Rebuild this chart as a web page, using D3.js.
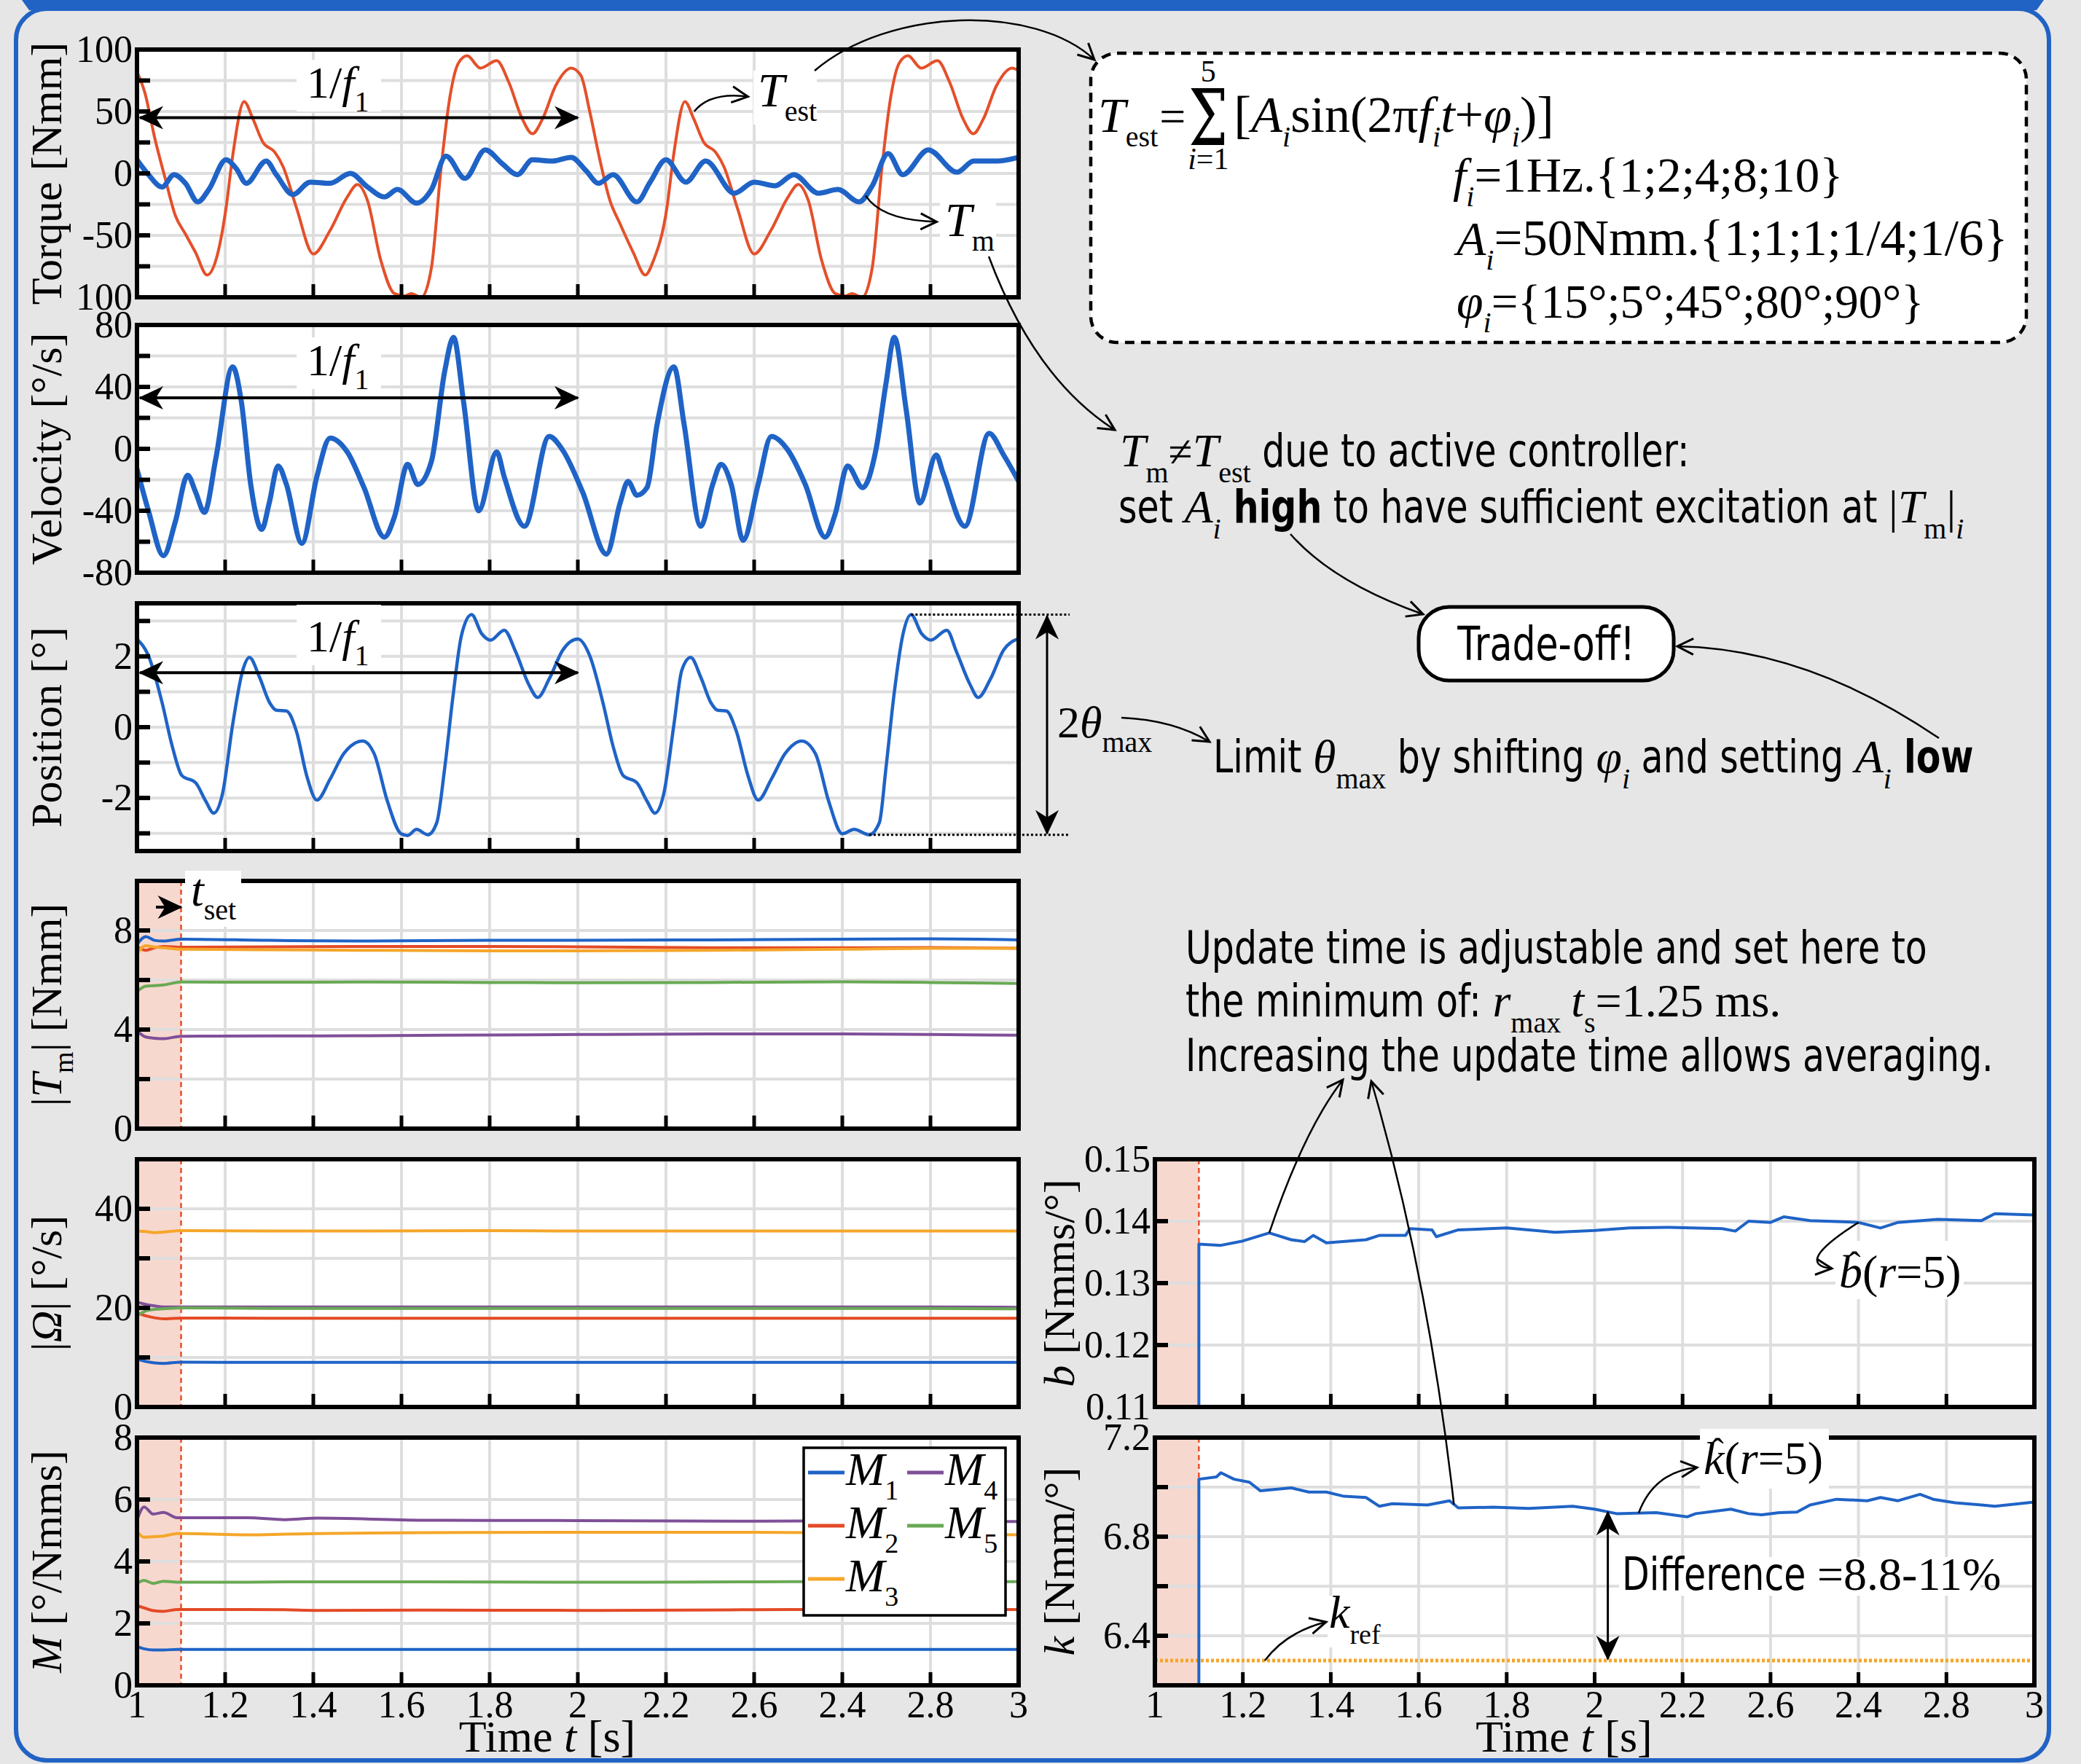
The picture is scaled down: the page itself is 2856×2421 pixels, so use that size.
<!DOCTYPE html>
<html>
<head>
<meta charset="utf-8">
<script src="https://cdn.jsdelivr.net/npm/d3@7"></script>
<style>body{margin:0;background:#e6e6e6} text{white-space:pre}</style>
</head>
<body>
<script>
// ---------- data ----------
var xTicks = [1, 1.2, 1.4, 1.6, 1.8, 2, 2.2, 2.4, 2.6, 2.8, 3];
var xTickLabels = ["1","1.2","1.4","1.6","1.8","2","2.2","2.6","2.4","2.8","3"];

// torque panel: T_est (orange) and T_m (blue)
var tEst = [1.0,1.018,1.04,1.064,1.087,1.11,1.133,1.159,1.179,1.202,1.217,1.243,1.263,1.286,1.313,1.332,1.362,1.40,1.438,1.477,1.50,1.523,1.553,1.584,1.607,1.622,1.645,1.668,1.69,1.71,1.729,1.749,1.779,1.816,1.843,1.874,1.897,1.92,1.95,1.985,2.007,2.027,2.05,2.073,2.095,2.126,2.153,2.172,2.202,2.217,2.243,2.263,2.286,2.313,2.332,2.362,2.40,2.438,2.477,2.50,2.523,2.553,2.584,2.607,2.622,2.645,2.668,2.69,2.71,2.729,2.749,2.779,2.816,2.843,2.874,2.897,2.92,2.95,2.985,3.0];
var vEst = [82,65,29,-4,-34,-49,-64,-82,-70,-28,14,58,44,25,17,5,-28,-65,-46,-19,-9,-22,-70,-97,-99,-97,-100,-76,5,62,89,95,85,91,74,44,32,44,71,85,79,50,11,-22,-40,-64,-82,-70,-28,14,58,44,25,17,5,-28,-65,-46,-19,-9,-22,-70,-97,-99,-97,-100,-76,5,62,89,95,85,91,74,44,32,44,71,85,83];
var tTm = [1.0,1.026,1.057,1.084,1.11,1.138,1.163,1.202,1.225,1.248,1.293,1.316,1.354,1.393,1.438,1.484,1.523,1.561,1.591,1.634,1.668,1.701,1.744,1.79,1.828,1.863,1.897,1.943,1.985,2.019,2.047,2.08,2.134,2.164,2.20,2.245,2.29,2.355,2.40,2.447,2.49,2.546,2.59,2.638,2.668,2.704,2.737,2.795,2.86,2.898,2.951,3.0];
var vTm = [11,-1,-11,-1,-8,-23,-13,11,4,-8,10,-1,-17,-7,-8,0,-11,-19,-13,-24,-13,14,-4,19,8,-1,11,10,13,2,-8,-1,-23,-7,11,-7,10,-16,-7,-10,-1,-16,-13,-23,-10,16,-1,19,1,10,10,13];

// velocity
var tVel = [1.0,1.026,1.06,1.087,1.115,1.133,1.153,1.179,1.217,1.237,1.258,1.283,1.30,1.32,1.339,1.374,1.408,1.438,1.477,1.515,1.561,1.584,1.614,1.637,1.668,1.698,1.718,1.741,1.775,1.816,1.833,1.879,1.935,1.966,2.011,2.065,2.096,2.114,2.134,2.157,2.18,2.218,2.241,2.279,2.306,2.325,2.348,2.375,2.409,2.439,2.477,2.516,2.561,2.584,2.612,2.646,2.676,2.699,2.718,2.745,2.776,2.813,2.829,2.878,2.933,2.966,3.0];
var vVel = [-13,-40,-69,-47,-17,-28,-41,-6,53,30,-23,-52,-35,-11,-23,-61,-18,7,-2,-25,-57,-44,-10,-23,-8,50,72,30,-40,-2,-18,-50,8,-1,-28,-68,-35,-21,-30,-25,16,53,16,-50,-23,-10,-23,-59,-23,8,-1,-23,-57,-42,-11,-25,-1,42,72,25,-35,-4,-16,-50,10,-4,-21];

// position
var tPos = [1.0,1.026,1.057,1.08,1.102,1.133,1.156,1.174,1.194,1.217,1.24,1.255,1.278,1.301,1.316,1.339,1.362,1.385,1.408,1.438,1.469,1.512,1.538,1.568,1.599,1.614,1.634,1.66,1.68,1.698,1.717,1.736,1.759,1.782,1.802,1.833,1.859,1.889,1.909,1.935,1.966,2.0,2.027,2.057,2.08,2.103,2.134,2.157,2.175,2.195,2.218,2.236,2.256,2.279,2.302,2.317,2.337,2.36,2.386,2.409,2.439,2.47,2.508,2.539,2.569,2.6,2.627,2.661,2.684,2.699,2.717,2.737,2.756,2.78,2.801,2.837,2.859,2.89,2.908,2.936,2.966,2.997];
var vPos = [2.49,2.02,0.69,-0.54,-1.37,-1.57,-2.09,-2.43,-1.88,0.07,1.61,1.97,1.41,0.69,0.48,0.46,-0.13,-1.37,-2.06,-1.47,-0.75,-0.39,-0.75,-2.09,-3.01,-3.06,-2.89,-3.04,-2.70,-1.16,0.89,2.59,3.18,2.64,2.46,2.74,2.13,1.2,0.84,1.36,2.18,2.49,2.02,0.69,-0.54,-1.37,-1.57,-2.09,-2.43,-1.88,0.07,1.61,1.97,1.41,0.69,0.48,0.46,-0.13,-1.37,-2.06,-1.47,-0.75,-0.39,-0.75,-2.09,-3.01,-2.89,-3.04,-2.70,-1.16,0.89,2.59,3.18,2.64,2.46,2.74,2.13,1.2,0.84,1.36,2.18,2.49];

// |T_m|, |Omega| per mode (M1..M5)
var tAmp = [1.0,1.02,1.04,1.06,1.1,1.3,1.5,1.8,2.0,2.3,2.6,2.8,3.0];
var tq1 = [7.43,7.75,7.6,7.57,7.65,7.6,7.57,7.6,7.6,7.62,7.65,7.66,7.62];
var tq2 = [7.35,7.2,7.3,7.35,7.32,7.34,7.35,7.35,7.34,7.3,7.3,7.31,7.28];
var tq3 = [7.06,7.38,7.33,7.3,7.24,7.22,7.2,7.18,7.18,7.2,7.24,7.28,7.28];
var tq4 = [3.95,3.7,3.65,3.63,3.73,3.74,3.75,3.78,3.8,3.82,3.82,3.8,3.77];
var tq5 = [5.53,5.75,5.77,5.8,5.92,5.91,5.92,5.9,5.89,5.9,5.93,5.9,5.86];
var om1 = [9.6,9.2,8.9,8.8,9.05,9.0,9.0,9.0,9.0,9.0,9.0,9.0,9.0];
var om2 = [19.0,18.4,18.0,17.8,17.95,17.9,17.9,17.9,17.9,17.9,17.9,17.9,17.9];
var om3 = [35.5,35.4,35.2,35.3,35.6,35.5,35.5,35.6,35.5,35.5,35.5,35.5,35.5];
var om4 = [21.2,20.7,20.4,20.2,20.2,20.2,20.2,20.2,20.2,20.2,20.2,20.2,20.1];
var om5 = [18.4,19.4,19.7,19.8,20.0,19.9,19.9,19.9,19.9,19.9,19.9,19.9,19.8];

// M per mode
var tMod = [1.0,1.016,1.037,1.06,1.092,1.25,1.336,1.41,1.65,2.0,2.4,2.6,3.0];
var m1 = [1.25,1.18,1.14,1.14,1.16,1.16,1.16,1.16,1.16,1.16,1.16,1.16,1.16];
var m2 = [2.57,2.5,2.41,2.39,2.45,2.45,2.44,2.42,2.43,2.42,2.44,2.45,2.45];
var m3 = [4.98,4.78,4.8,4.82,4.9,4.86,4.88,4.9,4.93,4.94,4.94,4.92,4.86];
var m4 = [5.33,5.76,5.53,5.58,5.41,5.41,5.35,5.4,5.33,5.32,5.3,5.31,5.29];
var m5 = [3.29,3.39,3.29,3.36,3.33,3.33,3.34,3.34,3.34,3.33,3.34,3.35,3.35];

// estimated b and k
var tB = [1.1,1.1,1.15,1.2,1.26,1.31,1.34,1.36,1.39,1.48,1.51,1.57,1.58,1.63,1.64,1.69,1.8,1.91,2.0,2.08,2.17,2.29,2.32,2.35,2.4,2.43,2.49,2.6,2.65,2.69,2.78,2.88,2.91,3.0];
var vB = [0.11,0.1363,0.1361,0.1368,0.1381,0.137,0.1367,0.1377,0.1365,0.137,0.1377,0.1377,0.1388,0.1386,0.1375,0.1386,0.1389,0.1382,0.1385,0.1389,0.139,0.1388,0.1384,0.14,0.1398,0.1407,0.1401,0.1398,0.1389,0.1398,0.1403,0.1401,0.1412,0.141];
var tK = [1.1,1.1,1.14,1.15,1.18,1.215,1.24,1.31,1.35,1.39,1.43,1.48,1.51,1.54,1.62,1.67,1.69,1.77,1.85,1.95,2.0,2.05,2.14,2.21,2.23,2.31,2.35,2.38,2.42,2.46,2.49,2.55,2.62,2.65,2.69,2.74,2.77,2.82,2.88,2.91,3.0];
var vK = [6.2,7.032,7.041,7.058,7.032,7.02,6.985,6.997,6.98,6.98,6.963,6.958,6.923,6.933,6.928,6.945,6.916,6.919,6.914,6.923,6.911,6.893,6.897,6.88,6.893,6.911,6.893,6.888,6.897,6.899,6.928,6.951,6.945,6.958,6.945,6.971,6.951,6.937,6.928,6.923,6.94];
var kRef = 6.3;

// ---------- styles ----------
var SERIF = "'Liberation Serif','DejaVu Serif',serif";
var SANS = "'DejaVu Sans',sans-serif";
var BLUE = "#1f63c6", RED = "#e34a26", ORANGE = "#f5a62a", GREEN = "#69a955", PURPLE = "#7f4f98", TEST = "#e4502a";
var modeColors = [BLUE, RED, ORANGE, PURPLE, GREEN];

var W = 2856, H = 2421, PH = 340;
var LX = [188, 1398], RX = [1585, 2792];
var rowTop = [68, 446, 828, 1209, 1591, 1973];

var svg = d3.select("body").append("svg")
  .attr("width", W).attr("height", H);
var defs = svg.append("defs");

svg.append("rect").attr("width", W).attr("height", H).attr("fill", "#e6e6e6");
// blue frame
svg.append("rect").attr("x", 22).attr("y", 12).attr("width", 2790).attr("height", 2404)
  .attr("rx", 42).attr("fill", "none").attr("stroke", "#2163c4").attr("stroke-width", 6);
svg.append("path").attr("d", "M30,0 L2805,0 L2795,14 L40,14 Z").attr("fill", "#2163c4");

// arrow markers
defs.append("marker").attr("id", "stealth").attr("markerUnits", "userSpaceOnUse")
  .attr("viewBox", "-40 -20 44 40").attr("refX", 0).attr("refY", 0)
  .attr("markerWidth", 44).attr("markerHeight", 40).attr("orient", "auto-start-reverse")
  .append("path").attr("d", "M2,0 L-32,-16 L-22,0 L-32,16 Z").attr("fill", "#000");
defs.append("marker").attr("id", "open").attr("markerUnits", "userSpaceOnUse")
  .attr("viewBox", "-30 -16 34 32").attr("refX", 0).attr("refY", 0)
  .attr("markerWidth", 34).attr("markerHeight", 32).attr("orient", "auto")
  .append("path").attr("d", "M-22,-11 L0,0 L-22,11").attr("fill", "none")
  .attr("stroke", "#000").attr("stroke-width", 3);

var panels = svg.append("g");
var ann = svg.append("g");
var clipN = 0;

function panel(xr, top, dom, step, ticks, tickLabels, shade, showX) {
  var p = {};
  p.x = d3.scaleLinear().domain([1, 3]).range(xr);
  p.y = d3.scaleLinear().domain(dom).range([top + PH, top]);
  var bottom = top + PH;
  var g = panels.append("g");
  g.append("rect").attr("x", xr[0]).attr("y", top).attr("width", xr[1] - xr[0]).attr("height", PH).attr("fill", "#fff");
  if (shade) {
    g.append("rect").attr("x", p.x(1)).attr("y", top).attr("width", p.x(1.1) - p.x(1)).attr("height", PH).attr("fill", "#f7d8cf");
  }
  var grid = g.append("g").attr("stroke", "#dedede").attr("stroke-width", 4);
  xTicks.slice(1, -1).forEach(function (v) {
    grid.append("line").attr("x1", p.x(v)).attr("x2", p.x(v)).attr("y1", top).attr("y2", bottom);
  });
  var i0 = Math.ceil(dom[0] / step - 1e-6), i1 = Math.floor(dom[1] / step + 1e-6);
  var gv = [];
  for (var i = i0; i <= i1; i++) {
    var v = i * step;
    if (Math.abs(v - dom[0]) < step * 1e-3 || Math.abs(v - dom[1]) < step * 1e-3) continue;
    gv.push(v);
  }
  gv.forEach(function (v) {
    grid.append("line").attr("x1", xr[0]).attr("x2", xr[1]).attr("y1", p.y(v)).attr("y2", p.y(v));
  });
  if (shade) {
    g.append("line").attr("x1", p.x(1.1)).attr("x2", p.x(1.1)).attr("y1", top).attr("y2", bottom)
      .attr("stroke", "#e8502a").attr("stroke-width", 2.5).attr("stroke-dasharray", "7,5");
  }
  var id = "clip" + (clipN++);
  defs.append("clipPath").attr("id", id).append("rect")
    .attr("x", xr[0]).attr("y", top).attr("width", xr[1] - xr[0]).attr("height", PH);
  p.data = g.append("g").attr("clip-path", "url(#" + id + ")");
  var ax = g.append("g");
  gv.forEach(function (v) {
    ax.append("line").attr("x1", xr[0]).attr("x2", xr[0] + 18).attr("y1", p.y(v)).attr("y2", p.y(v))
      .attr("stroke", "#000").attr("stroke-width", 6);
  });
  xTicks.slice(1, -1).forEach(function (v) {
    ax.append("line").attr("x1", p.x(v)).attr("x2", p.x(v)).attr("y1", bottom - 18).attr("y2", bottom)
      .attr("stroke", "#000").attr("stroke-width", 5);
  });
  ax.append("rect").attr("x", xr[0]).attr("y", top).attr("width", xr[1] - xr[0]).attr("height", PH)
    .attr("fill", "none").attr("stroke", "#000").attr("stroke-width", 6);
  ticks.forEach(function (v, i) {
    ax.append("text").attr("x", xr[0] - 6).attr("y", p.y(v) + 17).attr("text-anchor", "end")
      .attr("font-family", SERIF).attr("font-size", 52).text(tickLabels[i]);
  });
  if (showX) {
    xTicks.forEach(function (v, i) {
      ax.append("text").attr("x", p.x(v)).attr("y", 2357).attr("text-anchor", "middle")
        .attr("font-family", SERIF).attr("font-size", 52).text(xTickLabels[i]);
    });
  }
  p.top = top; p.bottom = bottom;
  return p;
}

function zip(t, v) { return t.map(function (d, i) { return [d, v[i]]; }); }
function draw(p, t, v, color, width, curve) {
  var line = d3.line().x(function (d) { return p.x(d[0]); }).y(function (d) { return p.y(d[1]); })
    .curve(curve || d3.curveLinear);
  p.data.append("path").datum(zip(t, v)).attr("d", line).attr("fill", "none")
    .attr("stroke", color).attr("stroke-width", width).attr("stroke-linejoin", "round");
}

// ---------- rich text ----------
function rich(parent, segs) {
  var g = parent.append("g");
  var cx = 0;
  segs.forEach(function (s) {
    var sx = s.sx || 1;
    cx += (s.dx || 0);
    var t = g.append("text")
      .attr("transform", "translate(" + cx + "," + (s.dy || 0) + ") scale(" + sx + ",1)")
      .attr("xml:space", "preserve")
      .attr("font-family", s.f).attr("font-size", s.fs)
      .attr("font-style", s.it ? "italic" : null)
      .attr("font-weight", s.b ? "bold" : null)
      .text(s.t);
    var w = t.node().getComputedTextLength() * sx;
    s._x = cx; s._w = w;
    if (s.hat) {
      g.append("text").attr("x", cx + w / 2 + s.fs * 0.08).attr("y", (s.dy || 0) - s.fs * 0.22)
        .attr("text-anchor", "middle").attr("font-family", SERIF).attr("font-size", s.fs * 0.8).text("\u02C6");
    }
    cx += w;
  });
  return { g: g, w: cx, segs: segs };
}
function put(parent, x, y, segs, anchor, rot) {
  var r = rich(parent, segs);
  var off = anchor === "middle" ? -r.w / 2 : anchor === "end" ? -r.w : 0;
  if (rot) r.g.attr("transform", "translate(" + x + "," + y + ") rotate(" + rot + ") translate(" + off + ",0)");
  else r.g.attr("transform", "translate(" + (x + off) + "," + y + ")");
  r.x0 = x + off;
  return r;
}
function S(t, o) { return Object.assign({ t: t, f: SANS, fs: 62, sx: 0.79 }, o || {}); }
function R(t, fs, o) { return Object.assign({ t: t, f: SERIF, fs: fs || 64 }, o || {}); }
function I(t, fs, o) { return Object.assign({ t: t, f: SERIF, fs: fs || 64, it: true }, o || {}); }
function sub(t, it, fs, dy) { return { t: t, f: SERIF, fs: fs || 40, dy: dy || 20, it: !!it }; }

// ---------- panels ----------
var pT = panel(LX, rowTop[0], [-100, 100], 25, [100, 50, 0, -50, -100], ["100", "50", "0", "-50", "100"], false, false);
var pV = panel(LX, rowTop[1], [-80, 80], 20, [80, 40, 0, -40, -80], ["80", "40", "0", "-40", "-80"], false, false);
var pP = panel(LX, rowTop[2], [-3.5, 3.5], 1, [2, 0, -2], ["2", "0", "-2"], false, false);
var pA = panel(LX, rowTop[3], [0, 10], 2, [8, 4, 0], ["8", "4", "0"], true, false);
var pO = panel(LX, rowTop[4], [0, 50], 10, [40, 20, 0], ["40", "20", "0"], true, false);
var pM = panel(LX, rowTop[5], [0, 8], 2, [8, 6, 4, 2, 0], ["8", "6", "4", "2", "0"], true, true);
var pB = panel(RX, rowTop[4], [0.11, 0.15], 0.01, [0.15, 0.14, 0.13, 0.12, 0.11], ["0.15", "0.14", "0.13", "0.12", "0.11"], true, false);
var pK = panel(RX, rowTop[5], [6.2, 7.2], 0.2, [7.2, 6.8, 6.4], ["7.2", "6.8", "6.4"], true, true);

draw(pT, tEst, vEst, TEST, 4, d3.curveMonotoneX);
draw(pT, tTm, vTm, BLUE, 7, d3.curveMonotoneX);
draw(pV, tVel, vVel, BLUE, 7, d3.curveMonotoneX);
draw(pP, tPos, vPos, BLUE, 4.5, d3.curveMonotoneX);
[tq1, tq2, tq3, tq4, tq5].forEach(function (v, i) { draw(pA, tAmp, v, modeColors[i], 4, d3.curveMonotoneX); });
[om1, om2, om3, om4, om5].forEach(function (v, i) { draw(pO, tAmp, v, modeColors[i], 4, d3.curveMonotoneX); });
[m1, m2, m3, m4, m5].forEach(function (v, i) { draw(pM, tMod, v, modeColors[i], 4, d3.curveMonotoneX); });
pK.data.append("line").attr("x1", pK.x(1)).attr("x2", pK.x(3)).attr("y1", pK.y(kRef)).attr("y2", pK.y(kRef))
  .attr("stroke", ORANGE).attr("stroke-width", 5).attr("stroke-dasharray", "4,3");
draw(pB, tB, vB, BLUE, 4);
draw(pK, tK, vK, BLUE, 4);

// ---------- axis titles ----------
var LLX = 84, RLX = 1474;
function midY(p) { return (p.top + p.bottom) / 2; }
put(ann, LLX, midY(pT), [R("Torque [Nmm]", 60)], "middle", -90);
put(ann, LLX, midY(pV), [R("Velocity [\u00B0/s]", 60)], "middle", -90);
put(ann, LLX, midY(pP), [R("Position [\u00B0]", 60)], "middle", -90);
put(ann, LLX, midY(pA), [R("|", 60), I("T", 60), sub("m", false, 38, 16), R("| [Nmm]", 60)], "middle", -90);
put(ann, LLX, midY(pO), [R("|", 60), I("\u03A9", 60), R("| [\u00B0/s]", 60)], "middle", -90);
put(ann, LLX, midY(pM), [I("M", 60), R(" [\u00B0/Nmms]", 60)], "middle", -90);
put(ann, RLX, midY(pB), [I("b", 60), R(" [Nmms/\u00B0]", 60)], "middle", -90);
put(ann, RLX, midY(pK), [I("k", 60), R(" [Nmm/\u00B0]", 60)], "middle", -90);
put(ann, (LX[0] + LX[1]) / 2 - 42, 2404, [R("Time ", 62), I("t", 62), R(" [s]", 62)], "middle");
put(ann, (RX[0] + RX[1]) / 2 - 42, 2404, [R("Time ", 62), I("t", 62), R(" [s]", 62)], "middle");

// ---------- period arrows 1/f1 ----------
function whiteBox(x, y, w, h) {
  ann.append("rect").attr("x", x).attr("y", y).attr("width", w).attr("height", h).attr("fill", "#fff");
}
function dblArrow(x1, y1, x2, y2, sw) {
  ann.append("line").attr("x1", x1).attr("y1", y1).attr("x2", x2).attr("y2", y2)
    .attr("stroke", "#000").attr("stroke-width", sw || 4)
    .attr("marker-start", "url(#stealth)").attr("marker-end", "url(#stealth)");
}
function curveArrow(d, head) {
  ann.append("path").attr("d", d).attr("fill", "none").attr("stroke", "#000").attr("stroke-width", 2.5)
    .attr("marker-end", head === false ? null : "url(#open)");
}
var perRows = [[pT, 45, 82, 134], [pV, 33, 463, 515], [pP, 1.54, 830, 894]];
perRows.forEach(function (r) {
  var p = r[0];
  whiteBox(407, r[2], 116, r[3] - r[2] + 19);
  put(ann, 421, r[3], [R("1/", 62), I("f", 62), sub("1", false, 40, 19)]);
  dblArrow(p.x(1) + 4, p.y(r[1]), p.x(2), p.y(r[1]), 4);
});

// T_est / T_m labels
whiteBox(1034, 97, 87, 74);
put(ann, 1040, 146, [I("T", 66), sub("est")]);
whiteBox(1290, 278, 77, 74);
put(ann, 1297, 324, [I("T", 66), sub("m")]);
curveArrow("M" + pT.x(2.264) + "," + pT.y(50) + " Q" + pT.x(2.3) + "," + pT.y(66) + " " + pT.x(2.386) + "," + pT.y(62));
curveArrow("M" + pT.x(2.653) + "," + pT.y(-18) + " Q" + pT.x(2.69) + "," + pT.y(-38) + " " + pT.x(2.814) + "," + pT.y(-39));
curveArrow("M1118,97 C1220,10 1420,5 1502,82");
curveArrow("M1357,352 Q1420,520 1530,590");

// ---------- formula box ----------
ann.append("rect").attr("x", 1497).attr("y", 73).attr("width", 1284).attr("height", 397).attr("rx", 36)
  .attr("fill", "#fff").attr("stroke", "#000").attr("stroke-width", 4.5).attr("stroke-dasharray", "13,9");
var f1 = put(ann, 1507, 181, [I("T", 68), sub("est"), R("=", 64, { dx: 2 }),
  { t: "\u03A3", f: "'DejaVu Serif',serif", fs: 106, sx: 0.72, dy: 18, dx: 4 },
  R("[", 72, { dx: 8 }), I("A", 70), sub("i", true), R("sin(2\u03C0", 70), I("f", 70), sub("i", true),
  I("t", 70), R("+", 70), I("\u03C6", 70), sub("i", true), R(")]", 70)]);
var sg = f1.segs[3];
put(ann, f1.x0 + sg._x + sg._w / 2, 112, [R("5", 42)], "middle");
put(ann, f1.x0 + sg._x + sg._w / 2, 232, [I("i", 42), R("=1", 42)], "middle");
put(ann, 1994, 263, [I("f", 66), sub("i", true), R("=1Hz.{1;2;4;8;10}", 67)]);
put(ann, 1999, 350, [I("A", 66), sub("i", true), R("=50Nmm.{1;1;1;1/4;1/6}", 69)]);
put(ann, 1999, 436, [I("\u03C6", 66), sub("i", true), R("={15\u00B0;5\u00B0;45\u00B0;80\u00B0;90\u00B0}", 65)]);

// ---------- right-hand notes ----------
put(ann, 1537, 640, [I("T", 64), sub("m", false, 40, 22), R("\u2260", 60), I("T", 64), sub("est", false, 40, 22), S(" due to active controller:")]);
put(ann, 1535, 717, [S("set "), I("A", 64), sub("i", true, 40, 22), S(" high", { b: true }), S(" to have sufficient excitation at "),
  R("|", 64), I("T", 64), sub("m", false, 40, 22), R("|", 64), sub("i", true, 40, 22)]);

ann.append("rect").attr("x", 1947).attr("y", 833).attr("width", 350).attr("height", 101).attr("rx", 42)
  .attr("fill", "#fff").attr("stroke", "#000").attr("stroke-width", 5);
put(ann, 2122, 906, [S("Trade-off!", { fs: 64 })], "middle");
curveArrow("M1771,733 Q1830,800 1953,843");
curveArrow("M2661,1013 Q2480,890 2302,887");

put(ann, 1451, 1012, [R("2", 62), I("\u03B8", 62), sub("max", false, 40, 20)]);
curveArrow("M1539,985 Q1610,988 1660,1018");
put(ann, 1665, 1060, [S("Limit "), I("\u03B8", 64), sub("max", false, 40, 22), S(" by shifting "), I("\u03C6", 64), sub("i", true, 40, 22),
  S(" and setting "), I("A", 64), sub("i", true, 40, 22), S(" low", { b: true })]);

// position extremes
var yMax = pP.y(3.18), yMin = pP.y(-3.04);
ann.append("line").attr("x1", pP.x(2.756)).attr("x2", 1468).attr("y1", yMax).attr("y2", yMax)
  .attr("stroke", "#000").attr("stroke-width", 3).attr("stroke-dasharray", "3,3");
ann.append("line").attr("x1", pP.x(2.661)).attr("x2", 1468).attr("y1", yMin).attr("y2", yMin)
  .attr("stroke", "#000").attr("stroke-width", 3).attr("stroke-dasharray", "3,3");
dblArrow(1437, yMax + 2, 1437, yMin - 2, 3);

// t_set
ann.append("line").attr("x1", pA.x(1) + 26).attr("x2", pA.x(1.1)).attr("y1", 1245).attr("y2", 1245)
  .attr("stroke", "#000").attr("stroke-width", 4).attr("marker-end", "url(#stealth)");
whiteBox(254, 1195, 77, 77);
put(ann, 262, 1243, [I("t", 64), sub("set", false, 40, 19)]);

// update-time note
put(ann, 1627, 1322, [S("Update time is adjustable and set here to")]);
put(ann, 1627, 1395, [S("the minimum of: "), I("r", 64), sub("max", false, 40, 22), I("t", 64, { dx: 14 }), sub("s", false, 40, 22),
  R("=1.25 ms.", 64)]);
put(ann, 1627, 1470, [S("Increasing the update time allows averaging.")]);
curveArrow("M" + pB.x(1.26) + "," + pB.y(0.1381) + " Q1790,1550 1843,1482");
curveArrow("M" + pK.x(1.68) + "," + pK.y(6.93) + " Q1960,1750 1882,1484");

// b-hat, k-hat, k_ref, difference
whiteBox(2519, 1703, 176, 80);
put(ann, 2524, 1767, [I("b", 64, { hat: true }), R("(", 64), I("r", 64), R("=5)", 64)]);
curveArrow("M" + pB.x(2.6) + "," + pB.y(0.1398) + " Q2460,1735 2514,1741");
whiteBox(2333, 1961, 177, 82);
put(ann, 2338, 2023, [I("k", 64, { hat: true }), R("(", 64), I("r", 64), R("=5)", 64)]);
curveArrow("M" + pK.x(2.1) + "," + pK.y(6.895) + " Q2270,2020 2329,2014");
whiteBox(1822, 2190, 70, 71);
put(ann, 1824, 2234, [I("k", 64), sub("ref", false, 38, 22)]);
curveArrow("M" + pK.x(1.25) + "," + pK.y(kRef) + " Q1765,2240 1820,2226");
dblArrow(pK.x(2.03), pK.y(6.905) + 2, pK.x(2.03), pK.y(kRef) - 2, 3);
whiteBox(2222, 2137, 496, 53);
put(ann, 2226, 2182, [S("Difference "), R("=8.8-11%", 64)]);

// ---------- legend ----------
ann.append("rect").attr("x", 1103).attr("y", 1987).attr("width", 277).attr("height", 230)
  .attr("fill", "#fff").attr("stroke", "#000").attr("stroke-width", 3.5);
var legRows = [[0, 0, 0], [3, 1, 0], [1, 0, 1], [4, 1, 1], [2, 0, 2]];
legRows.forEach(function (r) {
  var lx = r[1] ? 1245 : 1109, ly = 2021 + r[2] * 73;
  ann.append("line").attr("x1", lx).attr("x2", lx + 50).attr("y1", ly).attr("y2", ly)
    .attr("stroke", modeColors[r[0]]).attr("stroke-width", 5);
  put(ann, lx + 52, ly + 17, [I("M", 64), sub(String(r[0] + 1), false, 38, 20)]);
});
</script>
</body>
</html>
